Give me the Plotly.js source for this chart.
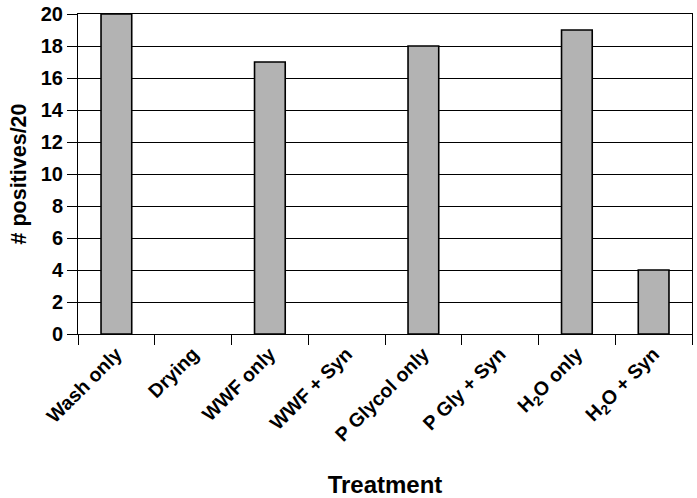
<!DOCTYPE html>
<html>
<head>
<meta charset="utf-8">
<script src="https://cdn.plot.ly/plotly-3.0.1.min.js"></script>
<style>html,body{margin:0;padding:0;background:#fff;}</style>
</head>
<body>
<div id="chart" style="width:697px;height:498px;"></div>
<script>
const categories = ["Wash only", "Drying", "WWF only", "WWF + Syn", "P Glycol only", "P Gly + Syn", "H<sub>2</sub>O only", "H<sub>2</sub>O + Syn"];
const positives = [20, 0, 17, 0, 18, 0, 19, 4];
const yTicks = [0, 2, 4, 6, 8, 10, 12, 14, 16, 18, 20];

const font = "Liberation Sans, Arial, Helvetica, sans-serif";

Plotly.newPlot("chart", [{
  type: "bar",
  x: categories,
  y: positives,
  marker: {color: "#b3b3b3", line: {color: "#000", width: positives.map(v => v > 0 ? 1.6 : 0)}},
  hoverinfo: "none"
}], {
  width: 697, height: 498,
  margin: {l: 78, r: 5, t: 14, b: 164},
  paper_bgcolor: "#fff", plot_bgcolor: "#fff",
  bargap: 0.6,
  showlegend: false,
  font: {family: font, color: "#000"},
  xaxis: {
    type: "category",
    tickson: "boundaries",
    ticks: "outside", ticklen: 10, tickcolor: "#000", tickwidth: 1,
    tickangle: -45,
    tickfont: {family: font, size: 19.5, weight: "bold"},
    showline: true, linecolor: "#000", linewidth: 1, mirror: true,
    showgrid: false,
    title: {text: "<b>Treatment</b>", font: {family: font, size: 24}, standoff: 31}
  },
  yaxis: {
    range: [0, 20],
    tickvals: yTicks,
    ticks: "outside", ticklen: 10, tickcolor: "#000", tickwidth: 1,
    tickfont: {family: font, size: 20, weight: "bold"},
    showline: true, linecolor: "#000", linewidth: 1, mirror: true,
    showgrid: true, gridcolor: "#000", gridwidth: 1,
    zeroline: false,
    title: {text: "<b># positives/20</b>", font: {family: font, size: 21.5}, standoff: 8}
  }
}, {staticPlot: true});
</script>
</body>
</html>
